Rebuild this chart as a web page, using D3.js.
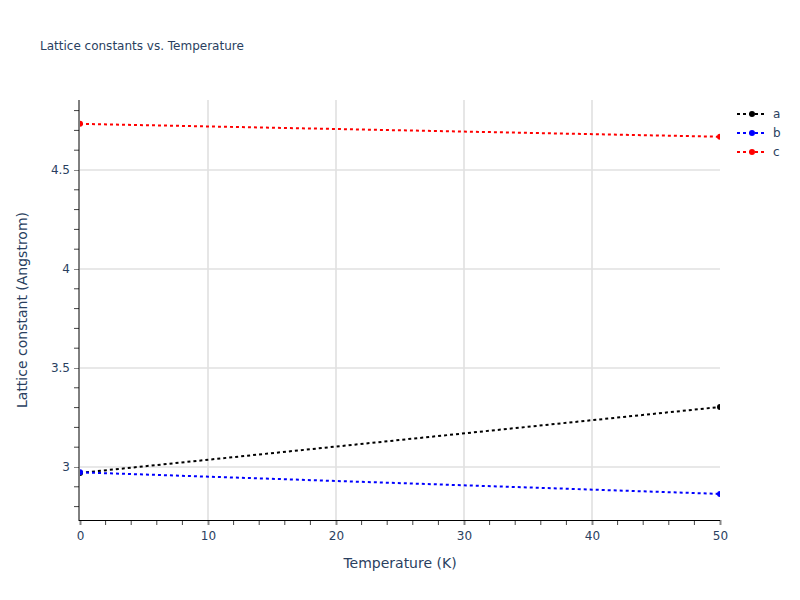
<!DOCTYPE html>
<html><head><meta charset="utf-8">
<script src="https://cdn.jsdelivr.net/npm/d3@7"></script>
<style>body{margin:0;background:#fff;font-family:"DejaVu Sans",Verdana,sans-serif;}</style>
</head><body><svg id="c" width="800" height="600"></svg>
<script>
const temps = [0, 50];
const seriesNames = ["a", "b", "c"];
const seriesColors = ["black", "blue", "red"];
const aValues = [2.97, 3.303];
const bValues = [2.973, 2.864];
const cValues = [4.733, 4.668];
const xTicks = [0, 10, 20, 30, 40, 50];
const yTicks = [3, 3.5, 4, 4.5];
const titleText = "Lattice constants vs. Temperature";
const xTitle = "Temperature (K)";
const yTitle = "Lattice constant (Angstrom)";

const FONT = "'DejaVu Sans',Verdana,sans-serif";
const allSeries = [aValues, bValues, cValues];
const svg = d3.select("#c");
const L = 80, R = 720, T = 100, B = 520;
const x = d3.scaleLinear().domain([0, 50]).range([L, R]);
const y = d3.scaleLinear().domain([2.7323, 4.8535]).range([B, T]);
const txt = "#2a3f5f";

// grid
svg.append("g").selectAll("line").data(xTicks.filter(d => d > 0 && d < 50)).join("line")
  .attr("x1", d => x(d)).attr("x2", d => x(d)).attr("y1", T).attr("y2", B)
  .attr("stroke", "#e6e6e6").attr("stroke-width", 2);
svg.append("g").selectAll("line").data(yTicks).join("line")
  .attr("x1", L).attr("x2", R).attr("y1", d => y(d)).attr("y2", d => y(d))
  .attr("stroke", "#e0e0e0").attr("stroke-width", 1.5);

svg.append("defs").append("clipPath").attr("id", "clip").append("rect")
  .attr("x", L).attr("y", T).attr("width", R - L).attr("height", B - T);

const gp = svg.append("g").attr("clip-path", "url(#clip)");
const line = d3.line().x((d, i) => x(temps[i])).y(d => y(d));
allSeries.forEach((vals, k) => {
  gp.append("path").datum(vals).attr("d", line).attr("fill", "none")
    .attr("stroke", seriesColors[k]).attr("stroke-width", 2).attr("stroke-dasharray", "3,3");
  gp.selectAll(null).data(vals).join("circle")
    .attr("cx", (d, i) => x(temps[i])).attr("cy", d => y(d)).attr("r", 3)
    .attr("fill", seriesColors[k]);
});

// axes
const xMinor = d3.range(0, 51, 2).filter(d => d % 10 !== 0);
const yMinor = d3.range(28, 49).map(d => d / 10).filter(d => Math.round(d * 10) % 5 !== 0 && y(d) >= T && y(d) <= B);

const xAxis = d3.axisBottom(x).tickValues(xTicks).tickSize(5).tickPadding(6).tickFormat(d3.format("d"));
const gx = svg.append("g").attr("transform", `translate(0,${B})`).call(xAxis);
gx.select(".domain").remove();
gx.selectAll(".tick line").attr("stroke", "#888").attr("stroke-width", 2);
gx.selectAll(".tick text").attr("fill", txt).style("font-size", "12px").style("font-family", FONT);
svg.append("g").selectAll("line").data(xMinor).join("line")
  .attr("x1", d => x(d)).attr("x2", d => x(d)).attr("y1", B).attr("y2", B + 5)
  .attr("stroke", "#444").attr("stroke-width", 1);

const yAxis = d3.axisLeft(y).tickValues(yTicks).tickSize(5).tickPadding(4).tickFormat(d => d3.format("~g")(d));
const gy = svg.append("g").attr("transform", `translate(${L - 1},0)`).call(yAxis);
gy.select(".domain").remove();
gy.selectAll(".tick line").attr("stroke", "#888").attr("stroke-width", 1);
gy.selectAll(".tick text").attr("fill", txt).style("font-size", "12px").style("font-family", FONT);
svg.append("g").selectAll("line").data(yMinor).join("line")
  .attr("x1", L - 6).attr("x2", L - 1).attr("y1", d => y(d)).attr("y2", d => y(d))
  .attr("stroke", "#444").attr("stroke-width", 1);

svg.append("line").attr("x1", L - 1).attr("x2", L - 1).attr("y1", T).attr("y2", B + 1).attr("stroke", "black").attr("stroke-width", 1);
svg.append("line").attr("x1", L - 1).attr("x2", R).attr("y1", B + 0.5).attr("y2", B + 0.5).attr("stroke", "black").attr("stroke-width", 1);

// titles
svg.append("text").attr("x", 40).attr("y", 50).text(titleText)
  .attr("fill", txt).style("font-size", "12px").style("font-family", FONT);
svg.append("text").attr("x", (L + R) / 2).attr("y", 568).attr("text-anchor", "middle").text(xTitle)
  .attr("fill", txt).style("font-size", "14px").style("font-family", FONT);
svg.append("text").attr("transform", `translate(27,${(T + B) / 2}) rotate(-90)`).attr("text-anchor", "middle").text(yTitle)
  .attr("fill", txt).style("font-size", "14px").style("font-family", FONT);

// legend
const lg = svg.append("g");
seriesNames.forEach((n, k) => {
  const yy = 114 + k * 19;
  lg.append("line").attr("x1", 737).attr("x2", 767).attr("y1", yy).attr("y2", yy)
    .attr("stroke", seriesColors[k]).attr("stroke-width", 2).attr("stroke-dasharray", "3,3");
  lg.append("circle").attr("cx", 752).attr("cy", yy).attr("r", 3).attr("fill", seriesColors[k]);
  lg.append("text").attr("x", 773).attr("y", yy + 4).text(n).attr("fill", txt)
    .style("font-size", "12px").style("font-family", FONT);
});
</script></body></html>
